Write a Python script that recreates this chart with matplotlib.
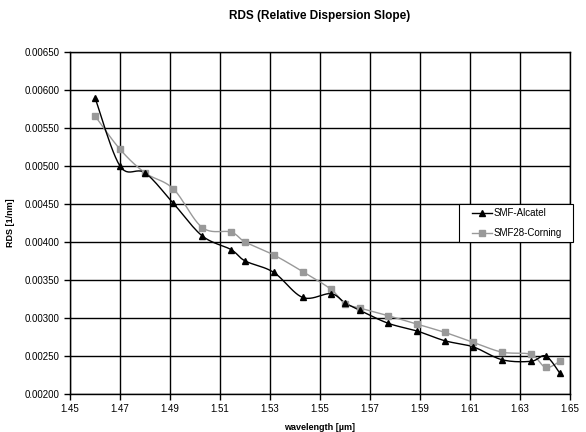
import numpy as np
import matplotlib
matplotlib.use("Agg")
import matplotlib.pyplot as plt
from matplotlib.patches import Rectangle
from matplotlib.ticker import FormatStrFormatter

plt.rcParams['font.family'] = ['Liberation Sans', 'DejaVu Sans']

# SMF-Alcatel
wl_alc = [1.460, 1.470, 1.480, 1.4913, 1.5029, 1.5144, 1.5201, 1.5315, 1.5431,
          1.5543, 1.560, 1.566, 1.5773, 1.5887, 1.600, 1.6113, 1.6229, 1.6344,
          1.6403, 1.646]
rds_alc = [0.00590, 0.00500, 0.00491, 0.00451, 0.00408, 0.00390, 0.00375, 0.00360,
           0.00327, 0.00332, 0.00320, 0.00310, 0.00293, 0.00283, 0.00270, 0.00262,
           0.00245, 0.00243, 0.00250, 0.00227]

# SMF28-Corning
wl_cor = [1.460, 1.470, 1.480, 1.4913, 1.5029, 1.5144, 1.5201, 1.5315, 1.5431,
          1.5543, 1.560, 1.566, 1.5773, 1.5887, 1.600, 1.6113, 1.6229, 1.6344,
          1.6403, 1.646]
rds_cor = [0.00566, 0.00522, 0.00491, 0.00470, 0.00419, 0.00413, 0.00400, 0.00383,
           0.00361, 0.00338, 0.00319, 0.00313, 0.00303, 0.00292, 0.00281, 0.00268,
           0.00255, 0.00252, 0.00235, 0.00243]


def smooth(x, y, n=12):
    # catmull-rom through the points, like the spreadsheet "smoothed line"
    x = np.asarray(x, float)
    y = np.asarray(y, float)
    px = np.concatenate([[x[0]], x, [x[-1]]])
    py = np.concatenate([[y[0]], y, [y[-1]]])
    xs, ys = [], []
    t = np.linspace(0, 1, n, endpoint=False)
    for i in range(1, len(px) - 2):
        for p, out in ((px, xs), (py, ys)):
            p0, p1, p2, p3 = p[i - 1], p[i], p[i + 1], p[i + 2]
            out.extend(0.5 * ((2 * p1) + (-p0 + p2) * t
                              + (2 * p0 - 5 * p1 + 4 * p2 - p3) * t ** 2
                              + (-p0 + 3 * p1 - 3 * p2 + p3) * t ** 3))
    xs.append(x[-1])
    ys.append(y[-1])
    return xs, ys


fig = plt.figure(figsize=(5.86, 4.32), dpi=100)
ax = fig.add_axes([70 / 586, 1 - 394 / 432, 500 / 586, 342 / 432])

for wl, rds, col, mk, lab in [(wl_cor, rds_cor, '#999999', 's', 'SMF28-Corning'),
                              (wl_alc, rds_alc, 'black', '^', 'SMF-Alcatel')]:
    sx, sy = smooth(wl, rds)
    ax.plot(sx, sy, color=col, lw=1.0, zorder=3)
    ax.plot(wl, rds, ls='none', marker=mk, color=col, ms=5, zorder=4)

h1, = ax.plot([], [], color='black', marker='^', ms=5, lw=1.0, label='SMF-Alcatel')
h2, = ax.plot([], [], color='#999999', marker='s', ms=5, lw=1.0, label='SMF28-Corning')

ax.set_xlim(1.45, 1.65)
ax.set_ylim(0.0020, 0.0065)
ax.set_xticks(np.arange(1.45, 1.651, 0.02))
ax.set_yticks(np.arange(0.0020, 0.00651, 0.0005))
ax.xaxis.set_major_formatter(FormatStrFormatter('%.2f'))
ax.yaxis.set_major_formatter(FormatStrFormatter('%.5f'))
ax.tick_params(labelsize=7, direction='out', length=4, width=1, colors='black')
ax.grid(True, color='black', lw=1)
for s in ax.spines.values():
    s.set_linewidth(1)

ax.set_title('RDS (Relative Dispersion Slope)', fontsize=8.5, fontweight='bold', pad=24)
ax.set_xlabel('wavelength [\u00b5m]', fontsize=6.5, fontweight='bold', labelpad=6)
ax.set_ylabel('RDS [1/nm]', fontsize=6.5, fontweight='bold', labelpad=7)

# legend box drawn by hand so it can have the wide right margin of the original
box = Rectangle((389 / 500, 152 / 342), 114 / 500, 38 / 342, transform=ax.transAxes,
                facecolor='white', edgecolor='black', lw=0.8, clip_on=False, zorder=9)
ax.add_patch(box)
leg = ax.legend(handles=[h1, h2], loc='upper left', bbox_to_anchor=(402 / 500, 186 / 342),
                fontsize=7, frameon=False, borderpad=0, borderaxespad=0,
                labelspacing=1.05, handlelength=2.1, handletextpad=0.15)
leg.set_zorder(10)

fig.savefig('out.png', dpi=100)
